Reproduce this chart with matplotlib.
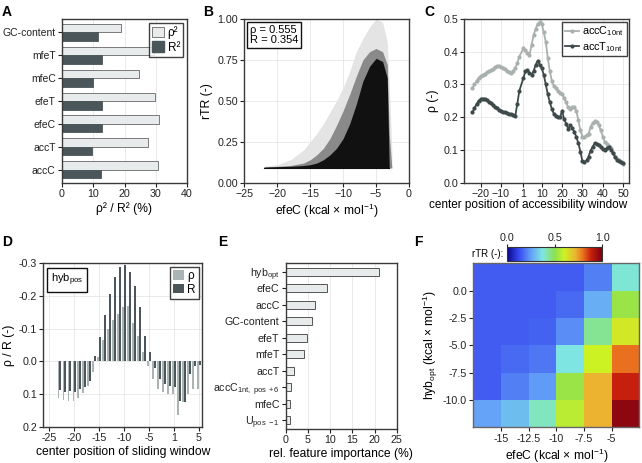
import matplotlib
matplotlib.use('Agg')
import matplotlib.pyplot as plt
import numpy as np
from matplotlib.colors import LinearSegmentedColormap, Normalize
from matplotlib.patches import Patch
import matplotlib.cm as cm

plt.rcParams['font.family'] = ['Liberation Sans', 'DejaVu Sans']
plt.rcParams['mathtext.fontset'] = 'custom'
plt.rcParams['mathtext.rm'] = 'Liberation Sans'
plt.rcParams['mathtext.it'] = 'Liberation Sans:italic'
plt.rcParams['mathtext.bf'] = 'Liberation Sans:bold'

# ---------------- data ----------------
# A
a_features = ['GC-content', 'mfeT', 'mfeC', 'efeT', 'efeC', 'accT', 'accC']
a_rho2 = [18.8, 29.3, 24.6, 29.8, 31.0, 27.5, 30.7]
a_r2 = [11.5, 12.8, 10.0, 12.8, 12.8, 9.5, 12.5]

# B (density envelopes of the scatter)
b_efe = [-22, -20, -18, -16, -15, -14, -13, -12, -11, -10, -9, -8, -7, -6, -5, -4, -3.3, -3.0, -2.6]
b_floor = 0.09
b_dense = [0.095, 0.098, 0.1, 0.105, 0.11, 0.12, 0.14, 0.17, 0.21, 0.27, 0.36, 0.48, 0.62, 0.71, 0.76, 0.74, 0.64, 0.09, 0.09]
b_mid = [0.095, 0.1, 0.105, 0.12, 0.14, 0.17, 0.21, 0.27, 0.35, 0.44, 0.54, 0.65, 0.75, 0.8, 0.82, 0.8, 0.72, 0.3, 0.09]
b_sparse = [0.1, 0.11, 0.14, 0.2, 0.25, 0.3, 0.36, 0.43, 0.5, 0.58, 0.68, 0.8, 0.88, 0.95, 1.0, 0.98, 0.86, 0.6, 0.2]
b_stats = 'ρ = 0.555\nR = 0.354'

# C
c_pos = list(range(-24, 0)) + list(range(1, 51))
c_accC = [0.29, 0.30, 0.31, 0.32, 0.325, 0.33, 0.333, 0.337, 0.34, 0.343, 0.347, 0.352,
          0.355, 0.356, 0.354, 0.35, 0.346, 0.342, 0.338, 0.335, 0.34, 0.35, 0.365, 0.385,
          0.41, 0.405, 0.395, 0.39, 0.42, 0.45, 0.47, 0.485, 0.49, 0.485, 0.46, 0.43,
          0.38, 0.34, 0.31, 0.295, 0.29, 0.28, 0.275, 0.27, 0.26, 0.245, 0.23, 0.225,
          0.23, 0.232, 0.22, 0.19, 0.16, 0.14, 0.14, 0.145, 0.15, 0.17, 0.183, 0.187,
          0.185, 0.175, 0.16, 0.14, 0.125, 0.118, 0.112, 0.105, 0.09, 0.08, 0.072, 0.068,
          0.063, 0.058]
c_accT = [0.215, 0.228, 0.24, 0.25, 0.255, 0.257, 0.256, 0.252, 0.247, 0.242, 0.236, 0.231,
          0.227, 0.223, 0.22, 0.217, 0.215, 0.212, 0.21, 0.21, 0.208, 0.203, 0.24, 0.28,
          0.32, 0.34, 0.345, 0.335, 0.33, 0.34, 0.36, 0.372, 0.36, 0.35, 0.33, 0.30,
          0.27, 0.245, 0.225, 0.21, 0.205, 0.2, 0.2, 0.22, 0.195, 0.18, 0.165, 0.175,
          0.168, 0.155, 0.14, 0.12, 0.095, 0.065, 0.063, 0.068, 0.08, 0.098, 0.11, 0.12,
          0.118, 0.115, 0.11, 0.102, 0.1, 0.105, 0.11, 0.1, 0.09, 0.08, 0.07, 0.065,
          0.062, 0.06]
c_xticks = [-20, -10, 1, 10, 20, 30, 40, 50]

# D (positions on the plotting index, tick '1' sits at index 0)
d_pos = list(range(-23, 6))
d_rho = [0.113, 0.118, 0.12, 0.12, 0.113, 0.097, 0.075, 0.034, -0.012, -0.065, -0.1, -0.125,
         -0.145, -0.165, -0.17, -0.118, -0.077, -0.03, 0.015, 0.055, 0.085, 0.095, 0.1, 0.1,
         0.165, 0.125, 0.1, 0.085, 0.085]
d_R = [0.087, 0.094, 0.092, 0.094, 0.085, 0.08, 0.06, -0.015, -0.075, -0.142, -0.205, -0.258,
       -0.289, -0.294, -0.272, -0.23, -0.165, -0.078, -0.03, 0.02, 0.055, 0.07, 0.075, 0.08,
       0.12, 0.125, 0.04, 0.015, 0.01]
d_xticks = [-25, -20, -15, -10, -5, 0, 5]
d_xticklabels = ['-25', '-20', '-15', '-10', '-5', '1', '5']

# E
e_features = [r'hyb$_{\mathrm{opt}}$', 'efeC', 'accC', 'GC-content', 'efeT', 'mfeT', 'accT',
              r'accC$_{\mathrm{1nt,\ pos\ +6}}$', 'mfeC', r'U$_{\mathrm{pos\ -1}}$']
e_importance = [21.0, 9.2, 6.6, 6.0, 4.9, 4.2, 1.8, 1.1, 1.0, 1.0]

# F
f_x_edges = [-17.5, -15, -12.5, -10, -7.5, -5, -2.5]
f_y_edges = [-12.5, -10, -7.5, -5, -2.5, 0, 2.5]
f_rows_top_to_bottom = [
    [0.15, 0.15, 0.15, 0.15, 0.2, 0.38],
    [0.15, 0.15, 0.15, 0.17, 0.27, 0.52],
    [0.15, 0.15, 0.16, 0.22, 0.44, 0.62],
    [0.15, 0.17, 0.19, 0.37, 0.6, 0.8],
    [0.15, 0.2, 0.24, 0.52, 0.72, 0.88],
    [0.25, 0.3, 0.4, 0.57, 0.72, 0.97],
]

# ---------------- style ----------------
W, H = 642, 463
fig = plt.figure(figsize=(W / 100, H / 100), dpi=100)

LIGHT = '#e8ebeb'
DARK = '#4a5659'
RHO_C = '#aab4b2'
SP = '#3a3a3a'
TICK_FS = 7.7
LAB_FS = 8.7


def ax_px(l, t, r, b):
    return fig.add_axes([l / W, 1 - b / H, (r - l) / W, (b - t) / H])


def style(ax, grid='both'):
    for s in ax.spines.values():
        s.set_color(SP)
        s.set_linewidth(1.0)
    ax.tick_params(labelsize=TICK_FS, colors='#222', length=3, width=0.8, pad=1.5)
    ax.set_axisbelow(True)
    if grid:
        ax.grid(True, axis=grid, color='#e6e6e6', lw=0.6)


def plabel(x, y, s):
    fig.text(x / W, 1 - y / H, s, fontsize=10, fontweight='bold', ha='left', va='center')

# ---------------- A ----------------
axA = ax_px(62, 19, 187, 182.7)
style(axA, 'x')
ya = np.arange(len(a_features))[::-1]
axA.barh(ya + 0.185, a_rho2, height=0.37, color=LIGHT, edgecolor='#666', lw=0.6)
axA.barh(ya - 0.185, a_r2, height=0.37, color=DARK, edgecolor=DARK, lw=0.6)
axA.set_yticks(ya)
axA.set_yticklabels(a_features)
axA.tick_params(axis='y', labelsize=7.5)
axA.set_ylim(-0.57, 6.59)
axA.set_xlim(0, 40)
axA.set_xticks([0, 10, 20, 30, 40])
axA.set_xlabel('ρ² / R² (%)', fontsize=LAB_FS, labelpad=2)
legA = axA.legend([Patch(facecolor=LIGHT, edgecolor='#666', lw=0.6), Patch(facecolor=DARK, edgecolor=DARK)],
                  ['ρ²', 'R²'], loc='upper right', fontsize=8.5, frameon=True, fancybox=False,
                  handlelength=1.0, handleheight=1.0, handletextpad=0.3, borderpad=0.3,
                  labelspacing=0.2, borderaxespad=0.3)
legA.get_frame().set_edgecolor('#111')
legA.get_frame().set_linewidth(1.0)

# ---------------- B ----------------
axB = ax_px(244.3, 19, 409, 182.7)
style(axB, 'both')
axB.fill_between(b_efe, b_floor, b_sparse, color='#e4e4e4', lw=0)
axB.fill_between(b_efe, b_floor, b_mid, color='#8a8a8a', lw=0)
axB.fill_between(b_efe, b_floor, b_dense, color='#111111', lw=0)
axB.plot([b_efe[0], b_efe[-2]], [b_floor, b_floor], color='#111', lw=0.8)
axB.set_xlim(-25, 0)
axB.set_ylim(0, 1)
axB.set_xticks([-25, -20, -15, -10, -5, 0])
axB.set_yticks([0, 0.25, 0.5, 0.75, 1.0])
axB.set_yticklabels(['0.00', '0.25', '0.50', '0.75', '1.00'])
axB.set_xlabel(r'efeC (kcal × mol$^{-1}$)', fontsize=LAB_FS, labelpad=2)
axB.set_ylabel('rTR (-)', fontsize=LAB_FS, labelpad=3)
axB.text(0.035, 0.965, b_stats, transform=axB.transAxes, fontsize=8, va='top', ha='left',
         linespacing=1.05,
         bbox=dict(boxstyle='square,pad=0.25', fc='white', ec='#111', lw=1.0))

# ---------------- C ----------------
axC = ax_px(464.3, 19, 629.3, 182.7)
style(axC, 'both')
axC.plot(c_pos, c_accC, color='#a9b1af', lw=1.3, marker='o', ms=2.0, label=r'accC$_{\mathrm{10nt}}$')
axC.plot(c_pos, c_accT, color='#3e4949', lw=1.3, marker='o', ms=2.0, label=r'accT$_{\mathrm{10nt}}$')
axC.set_xlim(-28, 53)
axC.set_ylim(0, 0.5)
axC.set_xticks(c_xticks)
axC.set_yticks([0, 0.1, 0.2, 0.3, 0.4, 0.5])
axC.set_yticklabels(['0.0', '0.1', '0.2', '0.3', '0.4', '0.5'])
axC.set_xlabel('center position of accessibility window', fontsize=8.5)
axC.xaxis.set_label_coords((528 - 464.3) / (629.3 - 464.3), -(205 - 182.7) / 163.7)
axC.xaxis.label.set_va('center')
axC.set_ylabel('ρ (-)', fontsize=LAB_FS, labelpad=3)
legC = axC.legend(loc='upper right', fontsize=7.8, frameon=True, fancybox=False,
                  handlelength=1.3, handletextpad=0.3, borderpad=0.25, labelspacing=0.15,
                  borderaxespad=0.25)
legC.get_frame().set_edgecolor('#111')
legC.get_frame().set_linewidth(1.0)

# ---------------- D ----------------
axD = ax_px(43.3, 263.3, 202.3, 426.7)
style(axD, 'both')
dp = np.array(d_pos)
axD.bar(dp - 0.17, d_rho, width=0.34, color=RHO_C, lw=0)
axD.bar(dp + 0.17, d_R, width=0.34, color=DARK, lw=0)
axD.set_xlim(-26.2, 5.7)
axD.set_ylim(0.2, -0.3)
axD.set_xticks(d_xticks)
axD.set_xticklabels(d_xticklabels)
axD.set_yticks([-0.3, -0.2, -0.1, 0.0, 0.1, 0.2])
axD.set_yticklabels(['-0.3', '-0.2', '-0.1', '0.0', '0.1', '0.2'])
axD.set_xlabel('center position of sliding window', fontsize=LAB_FS, labelpad=2)
axD.set_ylabel('ρ / R (-)', fontsize=LAB_FS, labelpad=3)
axD.text(0.05, 0.95, r'hyb$_{\mathrm{pos}}$', transform=axD.transAxes, fontsize=8, va='top', ha='left',
         bbox=dict(boxstyle='square,pad=0.35', fc='white', ec='#111', lw=1.0))
legD = axD.legend([Patch(facecolor=RHO_C), Patch(facecolor=DARK)], ['ρ', 'R'],
                  loc='upper right', fontsize=8.5, frameon=True, fancybox=False,
                  handlelength=0.9, handleheight=0.9, handletextpad=0.3, borderpad=0.25,
                  labelspacing=0.15, borderaxespad=0.3)
legD.get_frame().set_edgecolor('#111')
legD.get_frame().set_linewidth(1.0)

# ---------------- E ----------------
axE = ax_px(285.7, 263.3, 396.7, 429)
style(axE, 'x')
ye = np.arange(len(e_features))[::-1]
axE.barh(ye, e_importance, height=0.48, color=LIGHT, edgecolor='#555', lw=0.7)
axE.set_yticks(ye)
axE.set_yticklabels(e_features)
axE.set_ylim(-0.54, 9.5)
axE.set_xlim(0, 25)
axE.set_xticks([0, 5, 10, 15, 20, 25])
axE.set_xlabel('rel. feature importance (%)', fontsize=LAB_FS, labelpad=2)

# ---------------- F ----------------
rtr_cmap = LinearSegmentedColormap.from_list('rtr', [
    (0.0, '#08088c'), (0.12, '#3848f0'), (0.25, '#64a2f8'), (0.37, '#7ee6e2'),
    (0.5, '#8ce050'), (0.6, '#cdf224'), (0.72, '#ecb430'), (0.8, '#e8701e'),
    (0.88, '#c8200e'), (1.0, '#7a0010')])
axF = ax_px(473.3, 263.3, 639.3, 427.3)
style(axF, None)
for s in axF.spines.values():
    s.set_color('#666')
fz = np.array(f_rows_top_to_bottom)[::-1]
axF.pcolormesh(f_x_edges, f_y_edges, fz, cmap=rtr_cmap, vmin=0, vmax=1, shading='flat',
               edgecolors='none', antialiased=False)
axF.set_xlim(f_x_edges[0], f_x_edges[-1])
axF.set_ylim(f_y_edges[0], f_y_edges[-1])
axF.set_xticks([-15, -12.5, -10, -7.5, -5])
axF.set_xticklabels(['-15', '-12.5', '-10', '-7.5', '-5'])
axF.set_yticks([0, -2.5, -5, -7.5, -10])
axF.set_yticklabels(['0.0', '-2.5', '-5.0', '-7.5', '-10.0'])
axF.set_xlabel(r'efeC (kcal × mol$^{-1}$)', fontsize=LAB_FS, labelpad=2)
axF.set_ylabel(r'hyb$_{\mathrm{opt}}$ (kcal × mol$^{-1}$)', fontsize=LAB_FS, labelpad=2)

cax = ax_px(507.3, 247.3, 602.3, 260.7)
sm = cm.ScalarMappable(norm=Normalize(0, 1), cmap=rtr_cmap)
cb = fig.colorbar(sm, cax=cax, orientation='horizontal')
cb.set_ticks([0, 0.5, 1.0])
cb.set_ticklabels(['0.0', '0.5', '1.0'])
cax.xaxis.set_ticks_position('top')
cax.tick_params(labelsize=TICK_FS, length=2, pad=1, colors='#222')
cb.outline.set_edgecolor('#333')
cb.outline.set_linewidth(0.8)
fig.text(503 / W, 1 - 254 / H, 'rTR (-):', fontsize=7, ha='right', va='center')

# ---------------- panel letters ----------------
plabel(2, 12, 'A')
plabel(203, 12, 'B')
plabel(424, 12, 'C')
plabel(2, 242, 'D')
plabel(218, 242, 'E')
plabel(414, 242, 'F')

fig.savefig('out.png', dpi=100)
